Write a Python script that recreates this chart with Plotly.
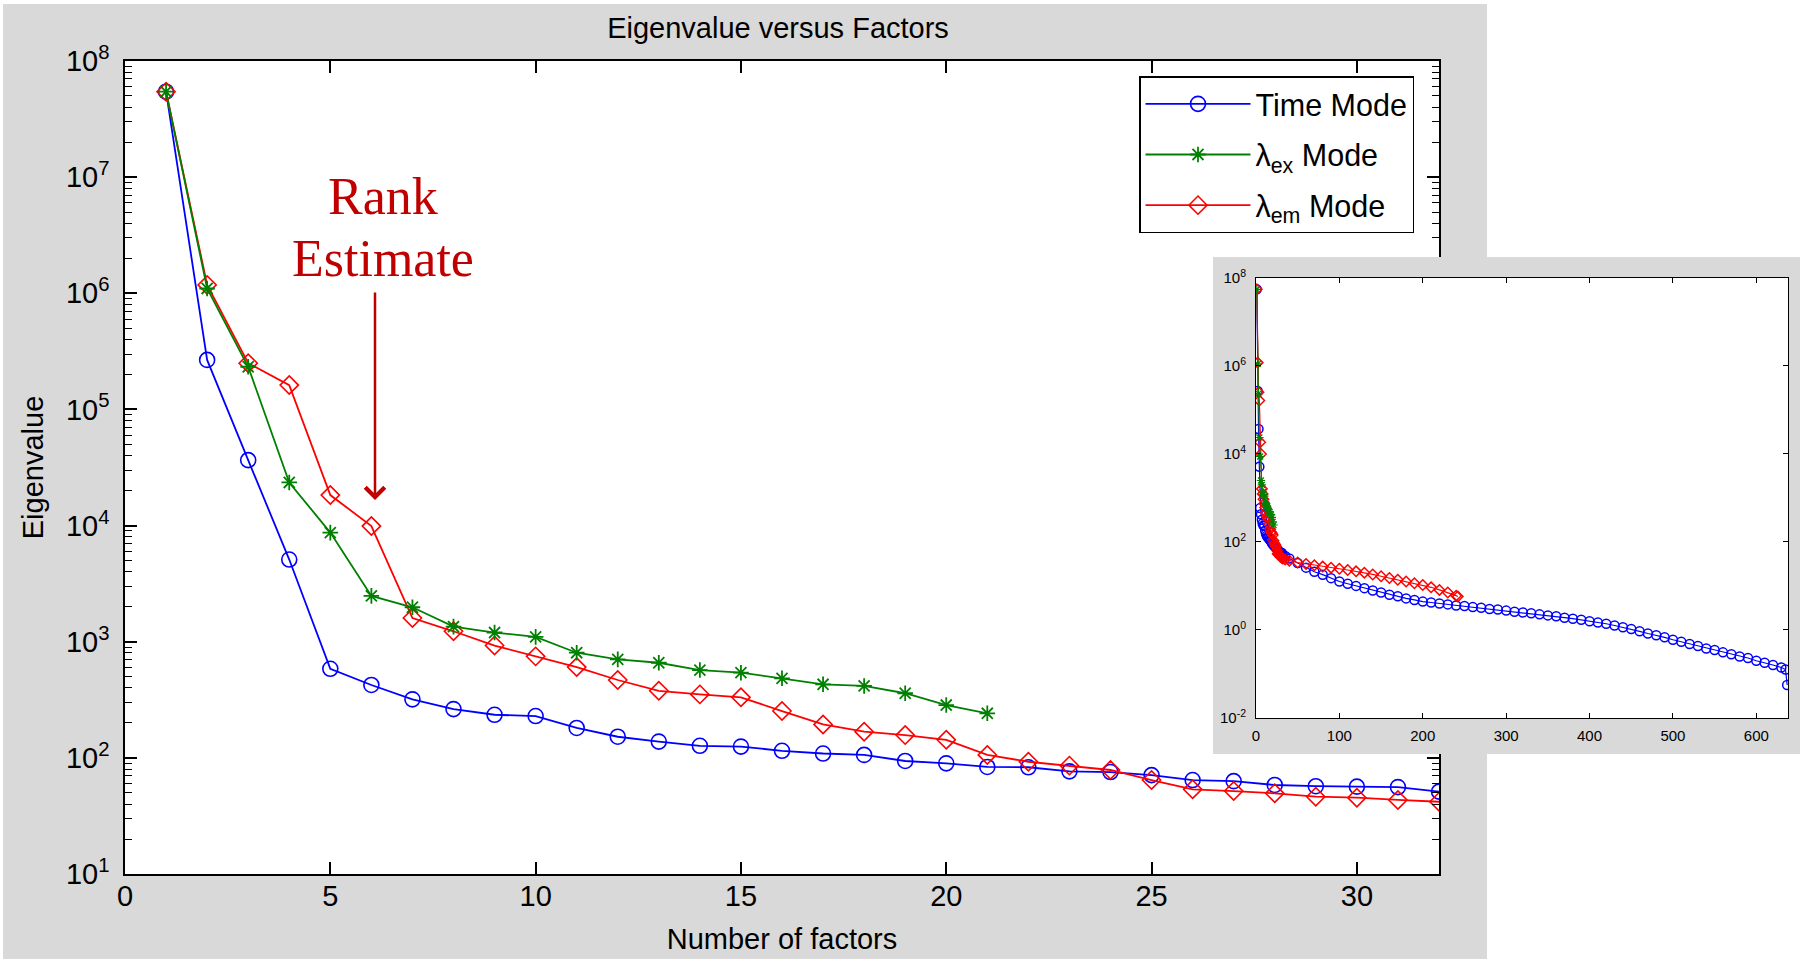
import plotly.graph_objects as go

W, H = 1800, 962

# ---------------- data ----------------
factors = list(range(1, 33))
time_mode = [5.44e7, 2.67e5, 3.66e4, 5.1e3, 585, 424, 319, 263, 235, 229, 181,
             152, 138, 127, 125, 115, 109, 106, 94, 89.7, 83.5, 83, 76.5, 75.5,
             71, 64.4, 63, 58.4, 57, 56.5, 56, 51.2]
ex_factors = list(range(1, 22))
ex_mode = [5.44e7, 1.1e6, 2.33e5, 2.35e4, 8.7e3, 2.48e3, 1.98e3, 1.35e3, 1.2e3,
           1.1e3, 804, 705, 659, 570, 541, 484, 430, 416, 360, 285, 242]
em_mode = [5.44e7, 1.18e6, 2.5e5, 1.62e5, 1.83e4, 9.9e3, 1.6e3, 1.23e3, 927, 748,
           605, 468, 378, 352, 332, 253, 194, 168, 157, 143, 106, 92.6, 85.7,
           78.6, 64.4, 53.6, 51.8, 49.5, 46.3, 45.4, 43.4, 41.9]

# inset: further factors of the same series (read at sampled positions)
time_tail_idx = [35, 40, 50, 60, 70, 80, 90, 100, 110, 120, 130, 140, 150, 160,
                 170, 180, 190, 200, 210, 220, 230, 240, 250, 260, 270, 280, 290,
                 300, 310, 320, 330, 340, 350, 360, 370, 380, 390, 400, 410, 420,
                 430, 440, 450, 460, 470, 480, 490, 500, 510, 520, 530, 540, 550,
                 560, 570, 580, 590, 600, 610, 620, 630, 635, 637]
time_tail_val = [48, 42, 33, 26, 21, 18, 15, 12.6, 11.2, 10.0, 8.9, 7.9, 7.1,
                 6.3, 5.8, 5.2, 4.8, 4.4, 4.2, 4.0, 3.8, 3.6, 3.5, 3.3, 3.2, 3.0,
                 2.9, 2.75, 2.6, 2.5, 2.4, 2.26, 2.14, 2.04, 1.9, 1.8, 1.7, 1.58,
                 1.48, 1.38, 1.26, 1.15, 1.05, 0.93, 0.83, 0.76, 0.68, 0.60, 0.54,
                 0.48, 0.43, 0.38, 0.35, 0.31, 0.28, 0.25, 0.23, 0.20, 0.18, 0.16,
                 0.14, 0.126, 0.056]
em_tail_idx = [35, 40, 50, 60, 70, 80, 90, 100, 110, 120, 130, 140, 150, 160,
               170, 180, 190, 200, 210, 220, 230, 240, 242]
em_tail_val = [40, 37.5, 34, 31.6, 29.5, 27.5, 26, 24.5, 23, 21.4, 20, 18.2,
               16.6, 15.1, 13.8, 12.6, 11.5, 10.5, 9.3, 8.1, 7.1, 6.0, 5.75]

main_xticks = [0, 5, 10, 15, 20, 25, 30]
main_yticks = [1e1, 1e2, 1e3, 1e4, 1e5, 1e6, 1e7, 1e8]
main_yticktext = ['10<sup>1</sup>', '10<sup>2</sup>', '10<sup>3</sup>', '10<sup>4</sup>',
                  '10<sup>5</sup>', '10<sup>6</sup>', '10<sup>7</sup>', '10<sup>8</sup>']
inset_xticks = [0, 100, 200, 300, 400, 500, 600]
inset_yticks = [1e-2, 1e0, 1e2, 1e4, 1e6, 1e8]
inset_yticktext = ['10<sup>-2</sup>', '10<sup>0</sup>', '10<sup>2</sup>',
                   '10<sup>4</sup>', '10<sup>6</sup>', '10<sup>8</sup>']

# ---------------- styling ----------------
BLUE, GREEN, RED = '#0000FF', '#008000', '#FF0000'
GRAY = '#D9D9D9'
DARKRED = '#C00000'
SANS = 'Liberation Sans, Arial, sans-serif'
SERIF = 'Liberation Serif, Times New Roman, serif'


def fx(p):
    return p / W


def fy(p):
    return 1 - p / H


MAIN_X = [fx(125), fx(1439)]
MAIN_Y = [fy(874), fy(61)]
BOX_X = [fx(1213), 1.0]
BOX_Y = [fy(754), fy(257)]
INS_X = [fx(1256), fx(1788)]
INS_Y = [fy(718), fy(277.7)]

fig = go.Figure()

# main plot
fig.add_trace(go.Scatter(
    x=factors, y=time_mode, mode='lines+markers', name='Time Mode', legendrank=1,
    legendgroup='t',
    line=dict(color=BLUE, width=1.8),
    marker=dict(symbol='circle-open', size=15, color=BLUE, line=dict(width=1.6, color=BLUE))))
fig.add_trace(go.Scatter(
    x=factors, y=em_mode, mode='lines+markers', name='λ<sub>em</sub> Mode', legendrank=3,
    legendgroup='em',
    line=dict(color=RED, width=1.8),
    marker=dict(symbol='diamond-open', size=14, color=RED, line=dict(width=1.6, color=RED))))
fig.add_trace(go.Scatter(
    x=ex_factors, y=ex_mode, mode='lines+markers', name='λ<sub>ex</sub> Mode', legendrank=2,
    legendgroup='ex',
    line=dict(color=GREEN, width=1.8),
    marker=dict(symbol='asterisk-open', size=13, color=GREEN, line=dict(width=1.8, color=GREEN))))

# empty trace for the inset's grey frame subplot
fig.add_trace(go.Scatter(x=[], y=[], xaxis='x2', yaxis='y2', showlegend=False,
                         hoverinfo='skip'))

# inset
fig.add_trace(go.Scatter(
    x=factors + time_tail_idx, y=time_mode + time_tail_val, mode='lines+markers',
    xaxis='x3', yaxis='y3', showlegend=False,
    line=dict(color=BLUE, width=1.2),
    marker=dict(symbol='circle-open', size=9, color=BLUE, line=dict(width=1.5, color=BLUE))))
fig.add_trace(go.Scatter(
    x=factors + em_tail_idx, y=em_mode + em_tail_val, mode='lines+markers',
    xaxis='x3', yaxis='y3', showlegend=False,
    line=dict(color=RED, width=1.2),
    marker=dict(symbol='diamond-open', size=8, color=RED, line=dict(width=1.5, color=RED))))
fig.add_trace(go.Scatter(
    x=ex_factors, y=ex_mode, mode='lines+markers',
    xaxis='x3', yaxis='y3', showlegend=False,
    line=dict(color=GREEN, width=1),
    marker=dict(symbol='asterisk-open', size=7, color=GREEN, line=dict(width=1.2, color=GREEN))))

axis_common = dict(showgrid=False, zeroline=False, showline=True, linecolor='black',
                   mirror='ticks', ticks='inside', tickcolor='black', automargin=False)

fig.update_layout(
    width=W, height=H, margin=dict(l=0, r=0, t=0, b=0, autoexpand=False),
    paper_bgcolor='white', plot_bgcolor='white',
    font=dict(family=SANS, color='black', size=29),
    title=dict(text='Eigenvalue versus Factors', x=fx(778), xanchor='center',
               y=fy(28), yanchor='middle', automargin=False,
               font=dict(family=SANS, size=29, color='black')),
    xaxis=dict(domain=MAIN_X, range=[0, 32], tickmode='array', tickvals=main_xticks,
               ticklen=12, tickwidth=1.5, linewidth=1.5, anchor='y',
               tickfont=dict(size=29), ticklabelstandoff=-5,
               title=dict(text='Number of factors', font=dict(size=29), standoff=18),
               **axis_common),
    yaxis=dict(domain=MAIN_Y, type='log', range=[1, 8], tickmode='array',
               tickvals=main_yticks, ticktext=main_yticktext,
               ticklen=12, tickwidth=1.5, linewidth=1.5, anchor='x',
               tickfont=dict(size=29), ticklabelstandoff=8,
               minor=dict(ticks='inside', ticklen=7, tickwidth=1.2, tickcolor='black',
                          dtick='D1', showgrid=False),
               title=dict(text='Eigenvalue', font=dict(size=29), standoff=14),
               **axis_common),
    xaxis2=dict(domain=BOX_X, range=[0, 1], visible=False, anchor='y2',
                fixedrange=True, automargin=False),
    yaxis2=dict(domain=BOX_Y, range=[0, 1], visible=False, anchor='x2',
                fixedrange=True, automargin=False),
    xaxis3=dict(domain=INS_X, range=[0, 638], tickmode='array', tickvals=inset_xticks,
                ticklen=5, tickwidth=1, linewidth=1, anchor='y3',
                tickfont=dict(size=15), ticklabelstandoff=4, **axis_common),
    yaxis3=dict(domain=INS_Y, type='log', range=[-2, 8], tickmode='array',
                tickvals=inset_yticks, ticktext=inset_yticktext,
                ticklen=5, tickwidth=1, linewidth=1, anchor='x3',
                tickfont=dict(size=15), ticklabelstandoff=6, **axis_common),
    legend=dict(x=fx(1139), y=fy(76), xanchor='left', yanchor='top',
                bgcolor='white', bordercolor='black', borderwidth=1.5,
                font=dict(family=SANS, size=30.5, color='black'),
                itemwidth=105, tracegroupgap=8),
    shapes=[
        dict(type='rect', xref='paper', yref='paper', layer='below',
             x0=fx(3), x1=fx(1487), y0=fy(959), y1=fy(4),
             fillcolor=GRAY, line=dict(width=0)),
        dict(type='rect', xref='paper', yref='paper', layer='below',
             x0=MAIN_X[0], x1=MAIN_X[1], y0=MAIN_Y[0], y1=MAIN_Y[1],
             fillcolor='white', line=dict(width=0)),
        dict(type='rect', xref='x2', yref='y2', layer='below',
             x0=0, x1=1, y0=0, y1=1, fillcolor=GRAY, line=dict(width=0)),
    ],
    annotations=[
        dict(text='Rank', xref='paper', yref='paper', x=fx(382.5), y=fy(196),
             xanchor='center', yanchor='middle', showarrow=False,
             font=dict(family=SERIF, size=52, color=DARKRED)),
        dict(text='Estimate', xref='paper', yref='paper', x=fx(382.5), y=fy(258.5),
             xanchor='center', yanchor='middle', showarrow=False,
             font=dict(family=SERIF, size=52, color=DARKRED)),
        dict(text='', xref='paper', yref='paper', x=fx(375), y=fy(500),
             showarrow=True, ax=0, ay=-209, axref='pixel', ayref='pixel',
             arrowhead=4, arrowsize=1.5, arrowwidth=2.5, arrowcolor=DARKRED,
             standoff=0),
    ],
)

fig.write_html('out.html')
